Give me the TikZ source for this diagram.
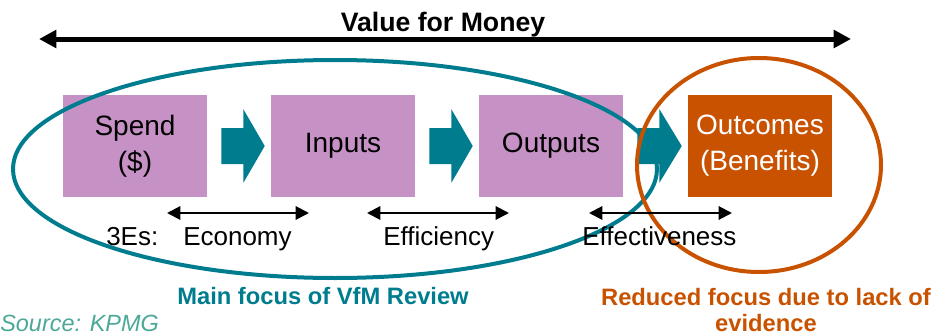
\documentclass[tikz,border=0pt]{standalone}
\usepackage{fontspec}
\setmainfont{Liberation Sans}
\usetikzlibrary{calc,arrows.meta}
\definecolor{vfmteal}{RGB}{0,124,143}
\definecolor{vfmpurple}{RGB}{198,145,196}
\definecolor{vfmorange}{RGB}{200,82,0}
\definecolor{srcgreen}{RGB}{76,168,152}

\begin{document}
\begin{tikzpicture}[x=0.75pt,y=-0.75pt]
    \tikzstyle{stage}=[rectangle,fill=vfmpurple,minimum width=108pt,minimum height=76.5pt,inner sep=0pt,align=center,font=\fontsize{21}{27}\selectfont]
    \tikzstyle{measure}=[anchor=base west,inner sep=0pt,font=\fontsize{19.5}{23}\selectfont]
    \tikzstyle{span}=[line width=1.5pt,{Triangle[length=10pt,width=10pt]}-{Triangle[length=10pt,width=10pt]}]
    \tikzstyle{focus}=[anchor=base,inner sep=0pt,align=center,font=\bfseries\fontsize{17.8}{19.5}\selectfont]
    \useasboundingbox (0,0) rectangle (933,336);
    \node(Title)[anchor=base,inner sep=0pt,font=\bfseries\fontsize{20}{24}\selectfont] at (443,31) {Value for Money};
    \coordinate (VL) at (39,39);
    \coordinate (VR) at (851,39);
    \draw[line width=3.75pt,{Triangle[length=13pt,width=13pt]}-{Triangle[length=13pt,width=13pt]}] (VL) -- (VR);
    \node(Spend)[stage] at (135,146) {Spend\\(\$)};
    \node(Inputs)[stage] at (343,146) {Inputs};
    \node(Outputs)[stage] at (551,146) {Outputs};
    \node(Outcomes)[stage,fill=vfmorange,text=white] at (760,146) {Outcomes\\(Benefits)};
    \foreach \a/\b in {Spend/Inputs,Inputs/Outputs,Outputs/Outcomes}
      \fill[vfmteal] ($(\a.east)+(14,-18)$) -- ($(\a.east)+(36,-18)$) -- ($(\a.east)+(36,-37)$)
        -- ($(\b.west)+(-6,0)$) -- ($(\a.east)+(36,37)$) -- ($(\a.east)+(36,18)$) -- ($(\a.east)+(14,18)$) -- cycle;
    \draw[vfmteal,line width=3pt] (335,169) ellipse [x radius=241.5pt,y radius=81.75pt];
    \draw[vfmorange,line width=3pt] (759,165) ellipse [x radius=91.5pt,y radius=80.25pt];
    \coordinate (E1) at (167,213);
    \coordinate (E2) at (309,213);
    \coordinate (F1) at (367,213);
    \coordinate (F2) at (509,213);
    \coordinate (G1) at (589,213);
    \coordinate (G2) at (732,213);
    \draw[span] (E1) -- (E2);
    \draw[span] (F1) -- (F2);
    \draw[span] (G1) -- (G2);
    \node(Es)[measure] at (106,245) {3Es:};
    \node(Economy)[measure] at (183,245) {Economy};
    \node(Efficiency)[measure] at (383,245) {Efficiency};
    \node(Effectiveness)[measure] at (582,245) {Effectiveness};
    \node(Main)[focus,text=vfmteal] at (323,304) {Main focus of VfM Review};
    \node(Reduced)[focus,text=vfmorange] at (766,331) {Reduced focus due to lack of\\evidence};
    \node(Source)[anchor=base west,inner sep=0pt,text=srcgreen,font=\itshape\fontsize{17.6}{21}\selectfont] at (0,331) {Source: KPMG};
  \end{tikzpicture}
\end{document}
